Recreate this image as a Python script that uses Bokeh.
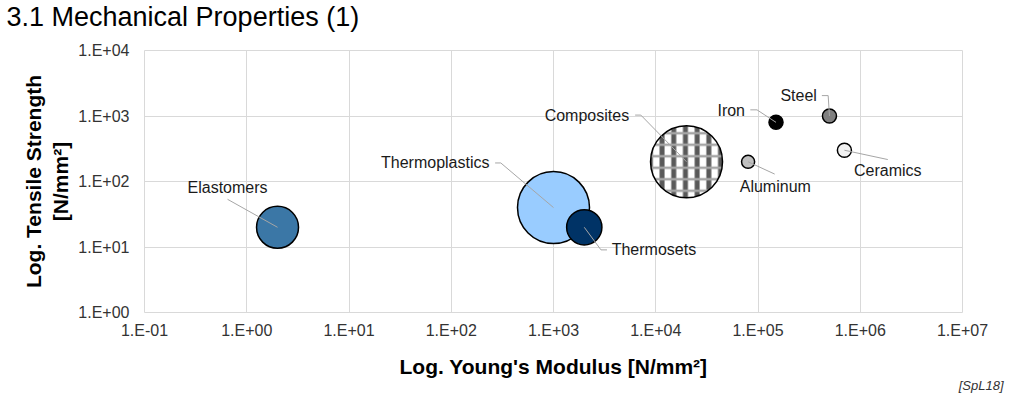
import math
from bokeh.plotting import figure
from bokeh.models import FixedTicker, CustomJSTickFormatter, Label, Range1d, Title
from bokeh.embed import file_html
from bokeh.resources import INLINE

# ---------------- data ----------------
materials = ["Elastomers", "Thermoplastics", "Thermosets", "Composites",
             "Aluminum", "Iron", "Steel", "Ceramics"]
youngs_modulus = [2, 1000, 2000, 20000, 80000, 150000, 500000, 700000]      # N/mm²
tensile_strength = [20, 40, 20, 200, 200, 800, 1000, 300]                   # N/mm²
bubble_size = [34, 100, 24, 100, 3.3, 3.8, 3.8, 3.8]                        # relative area
x_ticks = [1e-1, 1e0, 1e1, 1e2, 1e3, 1e4, 1e5, 1e6, 1e7]
y_ticks = [1e0, 1e1, 1e2, 1e3, 1e4]
title_text = "3.1 Mechanical Properties (1)"
x_label = "Log. Young's Modulus [N/mm²]"
y_label = "Log. Tensile Strength\n[N/mm²]"
source_text = "[SpL18]"

# ---------------- styles / layout ----------------
fill_colors = {
    "Elastomers": "#3B77A6", "Thermoplastics": "#99CCFF", "Thermosets": "#003366",
    "Composites": "#FFFFFF", "Aluminum": "#C0C0C0", "Iron": "#000000",
    "Steel": "#808080", "Ceramics": "#F2F2F2",
}
# label anchor offset (px from bubble centre, y down), text align, leader elbow points (px)
label_layout = {
    "Elastomers":     ((-50, -40), "center", [(-50, -28)]),
    "Thermoplastics": ((-64, -44.6), "right", [(-52.7, -44.6), (-58.4, -44.6)]),
    "Composites":     ((-57.4, -46.7), "right", [(-45.7, -46.7), (-51.4, -46.7)]),
    "Thermosets":     ((27.4, 22.6), "left", [(16.7, 22.6), (22.7, 22.6)]),
    "Iron":           ((-31, -12), "right", [(-19, -12.5), (-25.7, -12.5)]),
    "Steel":          ((-12.6, -20.5), "right", [(-1.3, -20.4), (-7.6, -20.4)]),
    "Aluminum":       ((27.2, 24.3), "center", [(26.6, 12.3)]),
    "Ceramics":       ((43.4, 20.7), "center", [(43.4, 9.3)]),
}
MAX_DIAM = 72
FONT = "Liberation Sans"
W, H = 1008, 393
BL, BT = 144, 50
FW, FH = 818, 262
BR, BB = W - BL - FW, H - BT - FH
PPD_X = FW / math.log10(x_ticks[-1] / x_ticks[0])
PPD_Y = FH / math.log10(y_ticks[-1] / y_ticks[0])


def off(x, y, dx, dy):
    return x * 10 ** (dx / PPD_X), y * 10 ** (-dy / PPD_Y)


p = figure(width=W, height=H, x_axis_type="log", y_axis_type="log",
           x_range=Range1d(x_ticks[0], x_ticks[-1]), y_range=Range1d(y_ticks[0], y_ticks[-1]),
           output_backend="svg", toolbar_location=None,
           min_border_left=BL, min_border_right=BR, min_border_top=BT, min_border_bottom=BB)

p.background_fill_color = "white"
p.border_fill_color = "white"
p.outline_line_color = "#D9D9D9"

fmt = CustomJSTickFormatter(code="""
const e = Math.round(Math.log10(tick));
const a = Math.abs(e);
return "1.E" + (e < 0 ? "-" : "+") + (a < 10 ? "0" : "") + a;
""")
p.xaxis.ticker = FixedTicker(ticks=x_ticks, minor_ticks=[])
p.yaxis.ticker = FixedTicker(ticks=y_ticks, minor_ticks=[])
for ax in (p.xaxis[0], p.yaxis[0]):
    ax.formatter = fmt
    ax.axis_line_color = None
    ax.major_tick_line_color = None
    ax.minor_tick_line_color = None
    ax.major_tick_out = 0
    ax.major_tick_in = 0
    ax.major_label_text_font = FONT
    ax.major_label_text_font_size = "16px"
    ax.major_label_text_color = "#333333"
    ax.axis_label_text_font = FONT
    ax.axis_label_text_font_size = "21px"
    ax.axis_label_text_font_style = "bold"
    ax.axis_label_text_color = "#000000"
p.xaxis.axis_label = x_label
p.yaxis.axis_label = y_label
p.xaxis.major_label_standoff = 9
p.yaxis.major_label_standoff = 15
p.xaxis.axis_label_standoff = 13
p.yaxis.axis_label_standoff = 3

p.xgrid.ticker = FixedTicker(ticks=x_ticks, minor_ticks=[])
p.ygrid.ticker = FixedTicker(ticks=y_ticks, minor_ticks=[])
p.grid.grid_line_color = "#D9D9D9"
p.grid.grid_line_width = 1

# trailing empty line keeps the title high above the frame
p.title.text = title_text + "\n"
p.title.text_font = FONT
p.title.text_font_size = "27px"
p.title.text_font_style = "normal"
p.title.text_color = "#000000"
p.title.align = "left"
p.title.vertical_align = "top"
p.title.offset = -138
p.title.standoff = 0
p.title.text_line_height = 0.58

src = Title(text=source_text, align="right", text_font=FONT, text_font_size="13px",
            text_font_style="italic", text_color="#333333", offset=-41, standoff=-10)
p.add_layout(src, "below")

# ---------------- bubbles ----------------
for m, x, y, s in zip(materials, youngs_modulus, tensile_strength, bubble_size):
    d = MAX_DIAM * math.sqrt(s / 100)
    if m == "Composites":
        p.scatter([x], [y], size=d, fill_color="white", line_color=None,
                  hatch_pattern="|", hatch_color="#595959", hatch_weight=5, hatch_scale=11.7)
        p.scatter([x], [y], size=d, fill_alpha=0, line_color=None,
                  hatch_pattern="-", hatch_color="#A5A5A5", hatch_weight=2.5, hatch_scale=11.5)
        p.scatter([x], [y], size=d, fill_alpha=0, line_color="black", line_width=1.5)
    else:
        p.scatter([x], [y], size=d, fill_color=fill_colors[m], line_color="black", line_width=1.5)

# ---------------- leader lines + labels ----------------
for m, x, y in zip(materials, youngs_modulus, tensile_strength):
    (tdx, tdy), align, pts = label_layout[m]
    xs, ys = [x], [y]
    for dx, dy in pts:
        px, py = off(x, y, dx, dy)
        xs.append(px)
        ys.append(py)
    p.line(xs, ys, line_color="#A6A6A6", line_width=1)
    lx, ly = off(x, y, tdx, tdy)
    p.add_layout(Label(x=lx, y=ly, text=m, text_align=align, text_baseline="middle",
                       text_font=FONT, text_font_size="16px", text_color="#1A1A1A"))

open("out.html", "w").write(file_html(p, INLINE))
